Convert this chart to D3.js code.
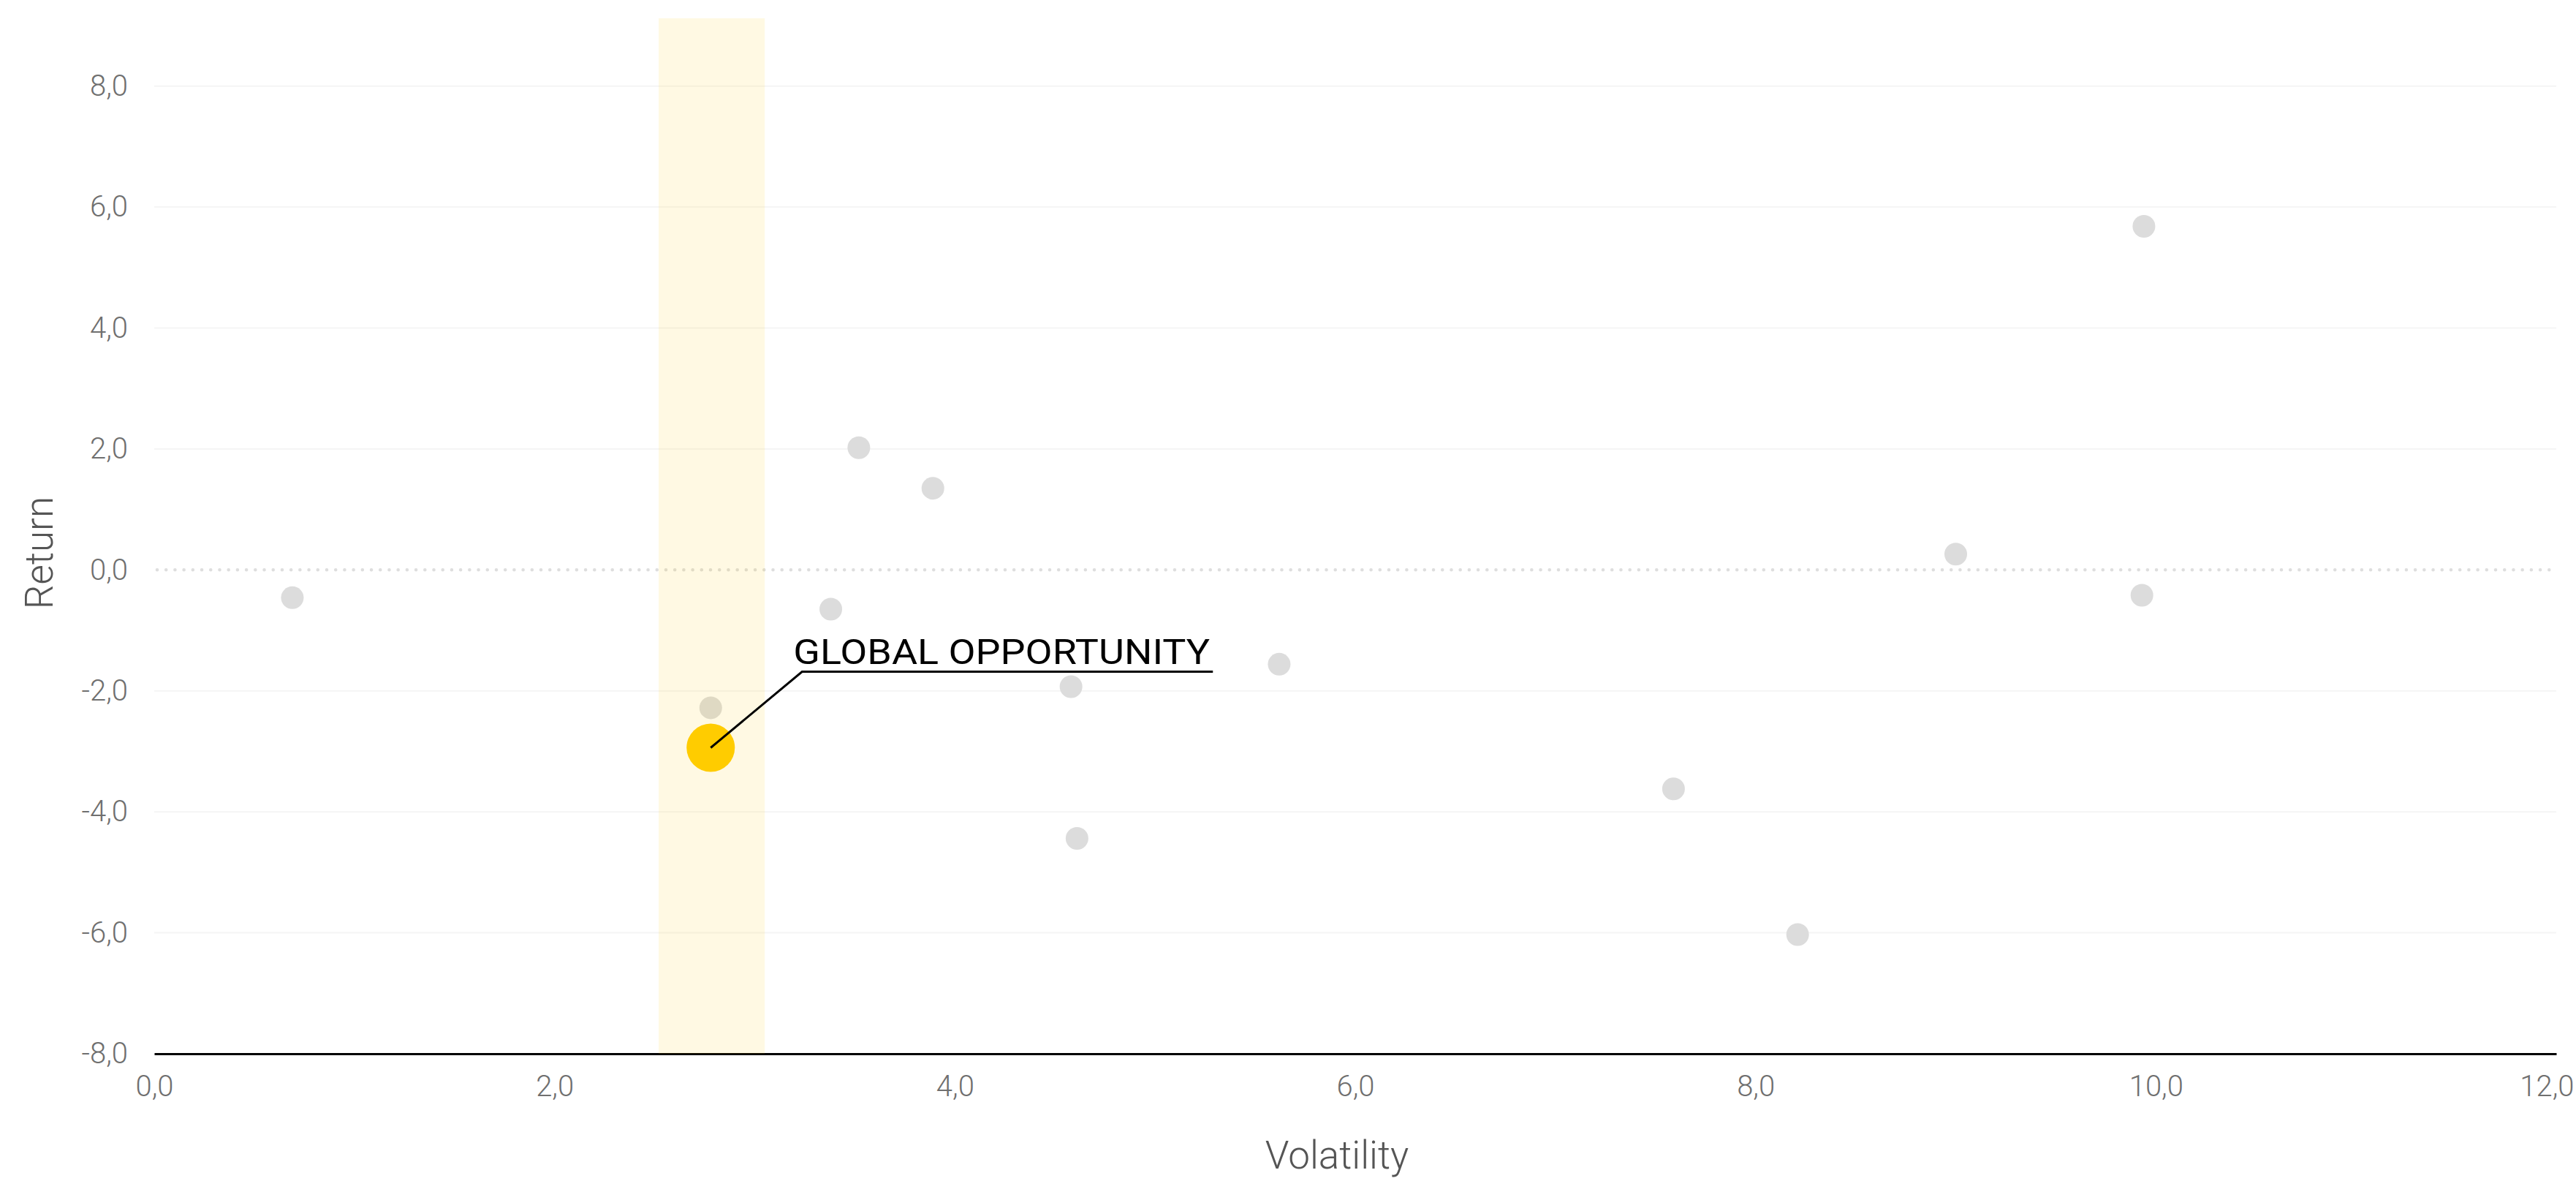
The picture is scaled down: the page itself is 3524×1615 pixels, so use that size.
<!DOCTYPE html>
<html>
<head>
<meta charset="utf-8">
<script src="https://cdn.jsdelivr.net/npm/d3@7"></script>
<style>
  body { margin: 0; background: #fff; }
  text { font-family: Roboto, "Open Sans", sans-serif; }
</style>
</head>
<body>
<div id="scatter"></div>
<script>

  // Data

  var volatility = [0.69, 2.78, 3.38, 3.52, 3.89, 4.58, 4.61, 5.62, 7.59, 8.21, 9.00, 9.94, 9.93];
  var returns    = [-0.46, -2.28, -0.65, 2.02, 1.35, -1.93, -4.44, -1.56, -3.62, -6.03, 0.26, 5.68, -0.42];

  var highlightName = "GLOBAL OPPORTUNITY";
  var highlightVol = 2.78;
  var highlightRet = -2.94;

  var bandRange = [2.52, 3.05];

  var xTicks = [0, 2, 4, 6, 8, 10, 12];
  var yTicks = [-8, -6, -4, -2, 0, 2, 4, 6, 8];

  var width = 3524,
      height = 1615;
  var margin = {top: 25, right: 27, bottom: 174, left: 211};

  var svg = d3.select("#scatter")
      .append("svg")
      .attr("width", width)
      .attr("height", height);

  var locale = d3.formatLocale({decimal: ",", thousands: ".", grouping: [3], currency: ["", ""], minus: "-"});
  var fmt = locale.format(".1f");

  // Scales

  var xScale = d3.scaleLinear()
      .domain([0, 12])
      .range([margin.left, width - margin.right]);

  var yScale = d3.scaleLinear()
      .domain([-8, 9.12])
      .range([height - margin.bottom, margin.top]);

  // Grid lines

  svg.append("g")
      .selectAll("line")
      .data(yTicks.filter(d => d !== 0 && d !== -8))
      .enter().append("line")
      .attr("x1", margin.left)
      .attr("x2", width - margin.right)
      .attr("y1", d => yScale(d))
      .attr("y2", d => yScale(d))
      .attr("stroke", "#f5f5f5")
      .attr("stroke-width", 2);

  // zero line (dotted)
  svg.append("line")
      .attr("x1", xScale(0) + 4)
      .attr("x2", width - margin.right)
      .attr("y1", yScale(0))
      .attr("y2", yScale(0))
      .attr("stroke", "#dedede")
      .attr("stroke-width", 4.6)
      .attr("stroke-linecap", "round")
      .attr("stroke-dasharray", "0.01 12.2");

  // Axes

  var yAxis = svg.append("g")
      .attr("transform", `translate(${margin.left}, 0)`)
      .call(d3.axisLeft(yScale).tickValues(yTicks).tickFormat(fmt).tickSize(0).tickPadding(36));
  yAxis.select(".domain").remove();
  yAxis.selectAll("text")
      .attr("font-size", "40px")
      .attr("font-weight", 300)
      .attr("fill", "#6f6f6f")
      .attr("font-family", "Roboto, sans-serif");

  var xAxis = svg.append("g")
      .attr("transform", `translate(0, ${height - margin.bottom})`)
      .call(d3.axisBottom(xScale).tickValues(xTicks).tickFormat(fmt).tickSize(0).tickPadding(30));
  xAxis.select(".domain")
      .attr("stroke", "#000")
      .attr("stroke-width", 3);
  xAxis.selectAll("text")
      .attr("font-size", "40px")
      .attr("font-weight", 300)
      .attr("fill", "#6f6f6f")
      .attr("font-family", "Roboto, sans-serif");

  // keep the last label inside the picture
  xAxis.selectAll("text").each(function(d) {
    var b = this.getBBox();
    var right = xScale(d) + b.width / 2;
    if (right > width - 3) {
      d3.select(this).attr("x", width - 3 - right);
    }
  });

  // Axis titles

  svg.append("text")
    .attr("x", 1829)
    .attr("y", height - 17)
    .attr("text-anchor", "middle")
    .attr("font-size", "53px")
    .attr("font-weight", 300)
    .attr("fill", "#555")
    .text("Volatility");

  svg.append("text")
    .attr("transform", "rotate(-90)")
    .attr("x", -756)
    .attr("y", 72)
    .attr("text-anchor", "middle")
    .attr("font-size", "53px")
    .attr("font-weight", 300)
    .attr("fill", "#555")
    .text("Return");

  // Points

  var points = volatility.map((v, i) => ({vol: v, ret: returns[i]}));

  svg.append("g")
      .selectAll("circle")
      .data(points)
      .enter().append("circle")
      .attr("cx", d => xScale(d.vol))
      .attr("cy", d => yScale(d.ret))
      .attr("r", 15.5)
      .attr("fill", "#dcdcdc");

  // Highlight band

  svg.append("rect")
      .attr("x", xScale(bandRange[0]))
      .attr("y", margin.top)
      .attr("width", xScale(bandRange[1]) - xScale(bandRange[0]))
      .attr("height", yScale(-8) - margin.top)
      .attr("fill", "rgba(255, 204, 0, 0.11)");

  var hx = xScale(highlightVol),
      hy = yScale(highlightRet);

  svg.append("circle")
      .attr("cx", hx)
      .attr("cy", hy)
      .attr("r", 33)
      .attr("fill", "#ffcc00");

  // Annotation

  var labelX = hx + 125,
      labelY = hy - 104;

  svg.append("path")
      .attr("d", `M${hx},${hy} L${labelX},${labelY} L${labelX + 562},${labelY}`)
      .attr("fill", "none")
      .attr("stroke", "#000")
      .attr("stroke-width", 3);

  svg.append("text")
    .attr("x", labelX - 12)
    .attr("y", labelY - 10)
    .attr("font-size", "49px")
    .attr("fill", "#000")
    .attr("textLength", 570)
    .attr("lengthAdjust", "spacingAndGlyphs")
    .text(highlightName);

</script>
</body>
</html>
